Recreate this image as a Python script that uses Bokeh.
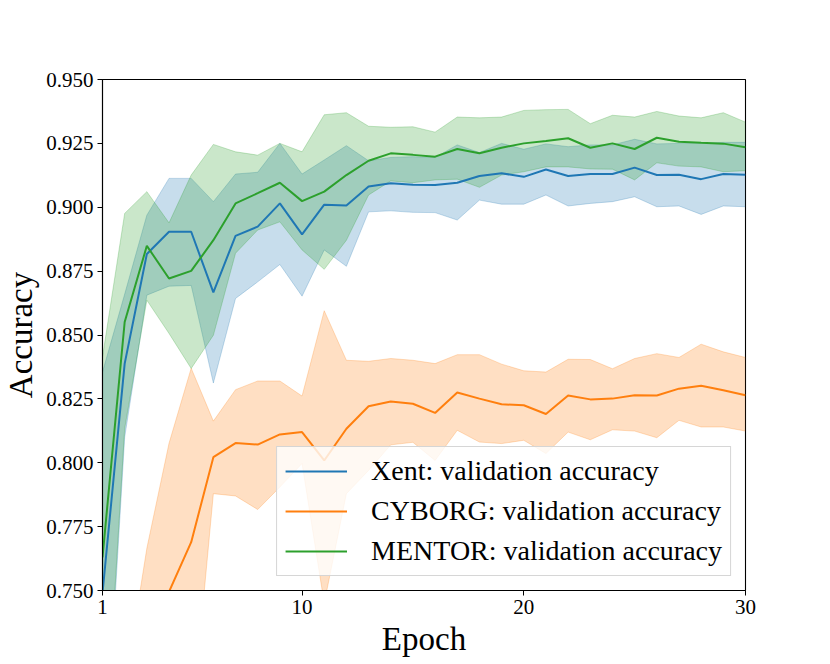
from bokeh.plotting import figure
from bokeh.models import Range1d, FixedTicker, Legend, LegendItem
from bokeh.embed import file_html
from bokeh.resources import INLINE

epochs = list(range(1, 31))

xent_mean = [0.749, 0.8388, 0.8817, 0.8904, 0.8904, 0.8667, 0.8888, 0.8924, 0.9015, 0.8894,
             0.9010, 0.9007, 0.9081, 0.9094, 0.9088, 0.9087, 0.9096, 0.9122, 0.9133, 0.9119,
             0.9148, 0.9122, 0.9130, 0.9130, 0.9155, 0.9126, 0.9127, 0.9110, 0.9130, 0.9127]
xent_upper = [0.8355, 0.866, 0.8969, 0.9113, 0.9113, 0.9022, 0.9130, 0.9137, 0.9250, 0.9130,
              0.9185, 0.9241, 0.9182, 0.9195, 0.9198, 0.9195, 0.9244, 0.9214, 0.9250, 0.9227,
              0.9248, 0.9237, 0.9244, 0.9244, 0.9266, 0.9248, 0.9250, 0.9250, 0.9254, 0.9254]
xent_lower = [0.664, 0.810, 0.8656, 0.8691, 0.8694, 0.8312, 0.8643, 0.8708, 0.8776, 0.8652,
              0.8833, 0.8769, 0.8982, 0.8986, 0.8980, 0.8979, 0.8950, 0.9028, 0.9012, 0.9012,
              0.9048, 0.9005, 0.9015, 0.9022, 0.9041, 0.9002, 0.9005, 0.8972, 0.9005, 0.9002]

cyborg_mean = [0.62, 0.68, 0.72, 0.7495, 0.7689, 0.8022, 0.8077, 0.8071, 0.8111, 0.8120,
               0.8009, 0.8133, 0.8221, 0.8240, 0.8231, 0.8195, 0.8275, 0.8251, 0.8229, 0.8225,
               0.8191, 0.8263, 0.8248, 0.8251, 0.8264, 0.8263, 0.8290, 0.8301, 0.8284, 0.8264]
cyborg_upper = [0.66, 0.712, 0.7665, 0.8076, 0.837, 0.8163, 0.8286, 0.8320, 0.8320, 0.8261,
                0.8595, 0.8401, 0.8397, 0.8408, 0.8401, 0.8388, 0.8423, 0.8423, 0.8386, 0.8360,
                0.8355, 0.8405, 0.8404, 0.8368, 0.8408, 0.8427, 0.8412, 0.8464, 0.8434, 0.8412]
cyborg_lower = [0.58, 0.62, 0.65, 0.67, 0.695, 0.7879, 0.7870, 0.7817, 0.7905, 0.7997,
                0.745, 0.7879, 0.797, 0.807, 0.808, 0.8009, 0.8127, 0.8081, 0.8075, 0.8088,
                0.8036, 0.8120, 0.8090, 0.8129, 0.8124, 0.8098, 0.8166, 0.8140, 0.8140, 0.8124]

mentor_mean = [0.763, 0.8551, 0.8849, 0.8721, 0.8751, 0.8871, 0.9015, 0.9055, 0.9096, 0.9024,
               0.9061, 0.9126, 0.9182, 0.9211, 0.9205, 0.9198, 0.9228, 0.9211, 0.9233, 0.9250,
               0.9259, 0.9270, 0.9233, 0.9250, 0.9228, 0.9272, 0.9256, 0.9252, 0.9249, 0.9235]
mentor_upper = [0.8414, 0.8976, 0.9061, 0.8939, 0.9126, 0.9246, 0.9217, 0.9204, 0.9250, 0.9217,
                0.9362, 0.9370, 0.9317, 0.9313, 0.9315, 0.9294, 0.9353, 0.9350, 0.9353, 0.9379,
                0.9382, 0.9383, 0.9327, 0.9360, 0.9353, 0.9375, 0.9357, 0.9350, 0.9370, 0.9333]
mentor_lower = [0.67, 0.8134, 0.8636, 0.8506, 0.8369, 0.8499, 0.8820, 0.8911, 0.8943, 0.8833,
                0.8757, 0.8871, 0.9048, 0.9103, 0.9096, 0.9107, 0.9110, 0.9078, 0.9126, 0.9139,
                0.9158, 0.9158, 0.9150, 0.9149, 0.9107, 0.9174, 0.9161, 0.9158, 0.9139, 0.9143]

series_names = ["Xent: validation accuracy", "CYBORG: validation accuracy", "MENTOR: validation accuracy"]
series_colors = ["#1f77b4", "#ff7f0e", "#2ca02c"]

x_ticks = [1, 10, 20, 30]
y_ticks = [0.75, 0.775, 0.8, 0.825, 0.85, 0.875, 0.9, 0.925, 0.95]
y_tick_labels = ["0.750", "0.775", "0.800", "0.825", "0.850", "0.875", "0.900", "0.925", "0.950"]

FONT = "Liberation Serif"

p = figure(frame_width=643, frame_height=511,
           min_border_left=95, min_border_right=76, min_border_top=79, min_border_bottom=66,
           x_range=Range1d(1, 30), y_range=Range1d(0.75, 0.95),
           output_backend="svg", toolbar_location=None)
p.background_fill_color = "white"
p.border_fill_color = "white"
p.xgrid.visible = False
p.ygrid.visible = False
p.outline_line_color = "black"
p.outline_line_width = 1.1
p.outline_line_alpha = 1.0

means = [xent_mean, cyborg_mean, mentor_mean]
uppers = [xent_upper, cyborg_upper, mentor_upper]
lowers = [xent_lower, cyborg_lower, mentor_lower]

for up, lo, c in zip(uppers, lowers, series_colors):
    p.varea(x=epochs, y1=lo, y2=up, fill_color=c, fill_alpha=0.25)
    p.line(epochs, up, line_color=c, line_alpha=0.25, line_width=1)
    p.line(epochs, lo, line_color=c, line_alpha=0.25, line_width=1)

items = []
for m, c, name in zip(means, series_colors, series_names):
    r = p.line(epochs, m, line_color=c, line_width=2)
    items.append(LegendItem(label=name, renderers=[r]))

legend = Legend(items=items, location="bottom_right")
legend.margin = 14
legend.padding = 8
legend.spacing = 8
legend.label_text_font = FONT
legend.label_text_font_size = "28px"
legend.label_text_color = "black"
legend.label_height = 30
legend.glyph_height = 30
legend.glyph_width = 62
legend.label_standoff = 24
legend.background_fill_color = "white"
legend.background_fill_alpha = 0.8
legend.border_line_color = "#cccccc"
legend.border_line_alpha = 0.8
legend.border_line_width = 1
p.add_layout(legend)

for ax in (p.xaxis[0], p.yaxis[0]):
    ax.axis_line_color = "black"
    ax.axis_line_width = 1.1
    ax.major_tick_line_color = "black"
    ax.major_tick_out = 5
    ax.major_tick_in = 0
    ax.minor_tick_out = 0
    ax.minor_tick_in = 0
    ax.major_label_text_font = FONT
    ax.major_label_text_font_size = "21px"
    ax.major_label_text_color = "black"
    ax.axis_label_text_font = FONT
    ax.axis_label_text_font_size = "33px"
    ax.axis_label_text_font_style = "normal"
    ax.axis_label_text_color = "black"
    ax.major_label_standoff = 4
    ax.axis_label_standoff = 4

p.xaxis.ticker = FixedTicker(ticks=x_ticks)
p.yaxis.ticker = FixedTicker(ticks=y_ticks)
p.yaxis.major_label_overrides = dict(zip(y_ticks, y_tick_labels))
p.xaxis.axis_label = "Epoch"
p.yaxis.axis_label = "Accuracy"

open("out.html", "w").write(file_html(p, INLINE))
